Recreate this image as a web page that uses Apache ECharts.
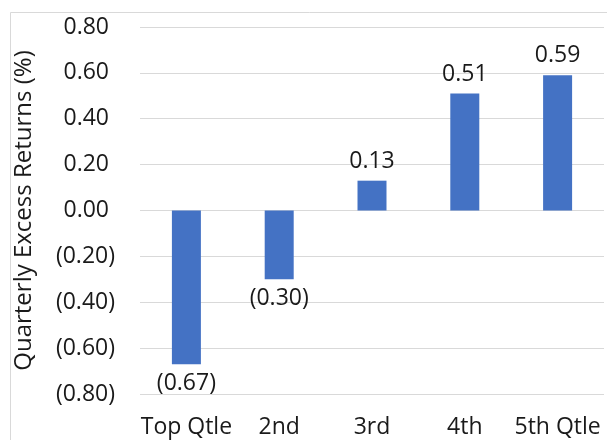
<!DOCTYPE html>
<html>
<head>
<meta charset="utf-8">
<script src="https://cdn.jsdelivr.net/npm/echarts@6/dist/echarts.min.js"></script>
<style>
  html, body { margin: 0; padding: 0; background: #fff; }
  #chart { width: 607px; height: 440px; }
</style>
</head>
<body>
<div id="chart"></div>
<script>
// Quintile buckets and their average quarterly excess returns (%)
const categories = ['Top Qtle', '2nd', '3rd', '4th', '5th Qtle'];
const returns = [-0.67, -0.30, 0.13, 0.51, 0.59];
const yTicks = { min: -0.8, max: 0.8, step: 0.2 };

const FONT = '"Open Sans", sans-serif';
const TEXT = '#1a1a1a';
const SIZE = 23;

// Accounting style: negatives in parentheses, positives padded to align digits
function fmt(v) {
  const s = Math.abs(v).toFixed(2);
  return v < 0 ? '(' + s + ')' : s + ' ';
}

const chart = echarts.init(document.getElementById('chart'), null, { renderer: 'canvas' });

chart.setOption({
  animation: false,
  backgroundColor: '#fff',
  graphic: [{
    type: 'rect',
    left: 8, top: 10,
    shape: { width: 598, height: 440 },
    style: { fill: 'none', stroke: '#d9d9d9', lineWidth: 1 },
    silent: true
  }],
  grid: { left: 140, right: 3, top: 27, bottom: 46 },
  xAxis: {
    type: 'category',
    data: categories,
    axisLine: { show: false, onZero: false },
    axisTick: { show: false },
    axisLabel: { color: TEXT, fontFamily: FONT, fontSize: SIZE, margin: 22, interval: 0 }
  },
  yAxis: {
    type: 'value',
    min: yTicks.min,
    max: yTicks.max,
    interval: yTicks.step,
    name: 'Quarterly Excess Returns (%)',
    nameLocation: 'middle',
    nameGap: 104,
    nameRotate: 90,
    nameTextStyle: { color: TEXT, fontFamily: FONT, fontSize: 24 },
    axisLine: { show: false },
    axisTick: { show: false },
    splitLine: { lineStyle: { color: '#d9d9d9', width: 1 } },
    axisLabel: {
      color: TEXT, fontFamily: FONT, fontSize: SIZE, margin: 25,
      formatter: v => fmt(Math.round(v * 100) / 100)
    }
  },
  series: [{
    type: 'bar',
    data: returns,
    barWidth: 29,
    itemStyle: { color: '#4472C4' },
    label: {
      show: true,
      position: 'outside',
      distance: 8,
      color: TEXT, fontFamily: FONT, fontSize: SIZE,
      formatter: p => fmt(p.value).trim()
    }
  }]
});
</script>
</body>
</html>
